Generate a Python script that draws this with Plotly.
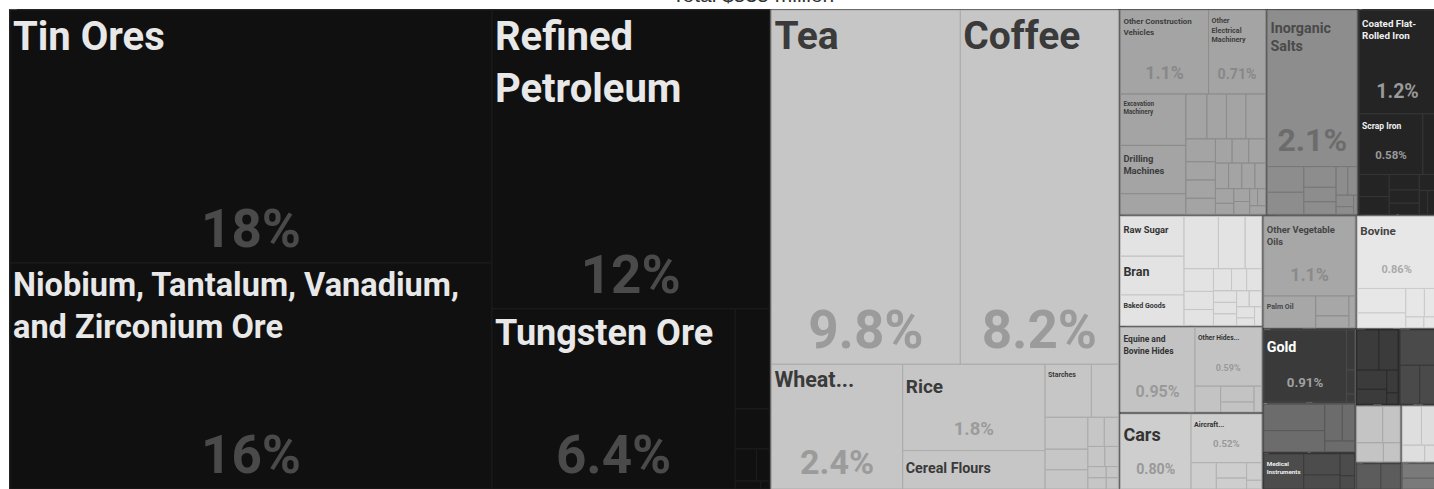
import plotly.graph_objects as go

# ---------------- data (share of total exports, %) ----------------
title_text = "Total $535 million"

mineral_names = ["Tin Ores", "Niobium, Tantalum, Vanadium, and Zirconium Ore", "Refined Petroleum",
                 "Tungsten Ore", "Copper Ore", "Petroleum Gas", "Crude Petroleum",
                 "Precious Metal Ore", "Cement", "Salt"]
mineral_values = [17.8, 15.9, 12.1, 6.4, 0.5, 0.2, 0.1, 0.06, 0.03, 0.01]

veg_names = ["Tea", "Coffee", "Wheat and Meslin", "Rice", "Cereal Flours", "Starches", "Maize", "Malt",
             "Soybeans", "Dried Legumes", "Cocoa Beans", "Spices", "Tropical Fruits", "Other Nuts",
             "Vanilla", "Onions", "Bananas", "Oats"]
veg_values = [9.8, 8.2, 2.4, 1.8, 0.8, 0.36, 0.21, 0.2, 0.13, 0.12, 0.07, 0.06, 0.05, 0.04,
              0.03, 0.03, 0.02, 0.02]

machine_names = ["Other Construction Vehicles", "Other Electrical Machinery", "Excavation Machinery",
                 "Drilling Machines", "Centrifuges", "Electric Generating Sets", "Air Pumps", "Valves",
                 "Computers", "Broadcasting Equipment", "Electric Motors", "Liquid Pumps", "Engine Parts",
                 "Telephones", "Transformers", "Sewing Machines", "Insulated Wire", "Lifting Machinery",
                 "Printers", "Refrigerators", "Ball Bearings", "Compressors", "Taps", "Generators",
                 "Fans", "Batteries", "Light Fixtures"]
machine_values = [1.1, 0.71, 0.5, 0.47, 0.2, 0.14, 0.13, 0.13, 0.13, 0.1, 0.08, 0.08, 0.07,
                  0.06, 0.06, 0.06, 0.05, 0.05, 0.05, 0.04, 0.04, 0.03, 0.03, 0.03, 0.02, 0.02, 0.02]

chem_names = ["Inorganic Salts", "Packaged Medicaments", "Insecticides", "Soap", "Paints", "Fertilizers",
              "Cleaning Products", "Beauty Products", "Glues", "Perfumes", "Explosives"]
chem_values = [2.1, 0.14, 0.12, 0.1, 0.07, 0.06, 0.05, 0.04, 0.03, 0.02, 0.01]

metal_names = ["Coated Flat-Rolled Iron", "Scrap Iron", "Iron Structures", "Aluminium Bars", "Raw Tin",
               "Iron Bars", "Nails", "Wire", "Tools", "Metal Cans", "Locks"]
metal_values = [1.2, 0.58, 0.12, 0.1, 0.08, 0.07, 0.06, 0.05, 0.04, 0.03, 0.03]

food_names = ["Raw Sugar", "Bran", "Baked Goods", "Beer", "Animal Food", "Hard Liquor", "Soups and Broths",
              "Pasta", "Cocoa Powder", "Fruit Juice", "Water", "Tobacco", "Wine", "Confectionery",
              "Sauces", "Chocolate", "Processed Fish", "Vinegar", "Flavored Water", "Cigars"]
food_values = [0.38, 0.37, 0.29, 0.27, 0.21, 0.13, 0.1, 0.08, 0.07, 0.06, 0.05, 0.05, 0.04, 0.04,
               0.04, 0.03, 0.03, 0.03, 0.02, 0.02]

hide_names = ["Equine and Bovine Hides", "Other Hides and Skins", "Leather", "Sheep Hides", "Handbags", "Furskins"]
hide_values = [0.95, 0.59, 0.1, 0.08, 0.05, 0.03]

transport_names = ["Cars", "Aircraft Parts", "Delivery Trucks", "Vehicle Parts", "Motorcycles",
                   "Tractors", "Bicycles"]
transport_values = [0.8, 0.52, 0.1, 0.07, 0.05, 0.04, 0.02]

oil_names = ["Other Vegetable Oils", "Palm Oil", "Soybean Oil", "Animal Fats", "Margarine"]
oil_values = [1.1, 0.25, 0.1, 0.06, 0.03]

animal_names = ["Bovine", "Poultry Meat", "Eggs", "Milk", "Fish Fillets", "Honey", "Bones"]
animal_values = [0.86, 0.18, 0.11, 0.08, 0.05, 0.03, 0.02]

precious_names = ["Gold", "Silver", "Jewellery", "Platinum"]
precious_values = [0.91, 0.05, 0.03, 0.01]

textile_names = ["Used Clothing", "Raw Cotton", "Synthetic Fabrics", "Knit Sweaters", "Jute Yarn"]
textile_values = [0.25, 0.2, 0.1, 0.07, 0.05]

instrument_names = ["Medical Instruments", "Optical Fibers", "Measuring Instruments", "X-Ray Equipment",
                    "Orthopedic Appliances"]
instrument_values = [0.22, 0.12, 0.08, 0.05, 0.03]

plastic_names = ["Plastic Lids", "Rubber Tires", "Plastic Pipes", "Ethylene Polymers", "Rubber Belts",
                 "Plastic Sheets"]
plastic_values = [0.14, 0.12, 0.09, 0.07, 0.04, 0.02]

footwear_names = ["Leather Footwear", "Rubber Footwear", "Hats"]
footwear_values = [0.2, 0.12, 0.1]

stone_names = ["Glass Bottles", "Ceramic Tiles", "Cement Articles", "Glass Fibers"]
stone_values = [0.15, 0.1, 0.08, 0.05]

paper_names = ["Paper Containers", "Toilet Paper", "Books", "Labels"]
paper_values = [0.12, 0.09, 0.06, 0.03]

wood_names = ["Sawn Wood", "Wood Charcoal"]
wood_values = [0.1, 0.08]

misc_names = ["Furniture", "Toys"]
misc_values = [0.08, 0.06]

groups = [
    ("Mineral Products", mineral_names, mineral_values),
    ("Vegetable Products", veg_names, veg_values),
    ("Machines", machine_names, machine_values),
    ("Chemical Products", chem_names, chem_values),
    ("Metals", metal_names, metal_values),
    ("Foodstuffs", food_names, food_values),
    ("Animal Hides", hide_names, hide_values),
    ("Transportation", transport_names, transport_values),
    ("Animal and Vegetable Bi-Products", oil_names, oil_values),
    ("Animal Products", animal_names, animal_values),
    ("Precious Metals", precious_names, precious_values),
    ("Textiles", textile_names, textile_values),
    ("Instruments", instrument_names, instrument_values),
    ("Plastics and Rubbers", plastic_names, plastic_values),
    ("Footwear and Headwear", footwear_names, footwear_values),
    ("Stone And Glass", stone_names, stone_values),
    ("Paper Goods", paper_names, paper_values),
    ("Wood Products", wood_names, wood_values),
    ("Miscellaneous", misc_names, misc_values),
]

# ---------------- styles ----------------
GROUP_STYLE = {  # fill, leaf border, label colour, percent colour
    "Mineral Products": ("#101010", "#1d1d1d", "#e8e8e8", "#4a4a4a"),
    "Vegetable Products": ("#c6c6c6", "#acacac", "#3a3a3a", "#9b9b9b"),
    "Machines": ("#a4a4a4", "#8c8c8c", "#3d3d3d", "#888888"),
    "Chemical Products": ("#8d8d8d", "#787878", "#4a4a4a", "#6c6c6c"),
    "Metals": ("#242424", "#363636", "#f0f0f0", "#9a9a9a"),
    "Foodstuffs": ("#e3e3e3", "#c6c6c6", "#333333", "#aaaaaa"),
    "Animal Hides": ("#c3c3c3", "#a8a8a8", "#333333", "#999999"),
    "Transportation": ("#cecece", "#b2b2b2", "#333333", "#999999"),
    "Animal and Vegetable Bi-Products": ("#a7a7a7", "#8e8e8e", "#454545", "#8a8a8a"),
    "Animal Products": ("#e7e7e7", "#cbcbcb", "#444444", "#aaaaaa"),
    "Precious Metals": ("#3a3a3a", "#4b4b4b", "#ffffff", "#a0a0a0"),
    "Textiles": ("#6c6c6c", "#595959", "#eeeeee", "#aaaaaa"),
    "Instruments": ("#4c4c4c", "#3b3b3b", "#eeeeee", "#aaaaaa"),
    "Plastics and Rubbers": ("#3b3b3b", "#2b2b2b", "#eeeeee", "#aaaaaa"),
    "Footwear and Headwear": ("#4a4a4a", "#393939", "#eeeeee", "#aaaaaa"),
    "Stone And Glass": ("#c4c4c4", "#a9a9a9", "#333333", "#999999"),
    "Paper Goods": ("#dedede", "#c3c3c3", "#333333", "#999999"),
    "Wood Products": ("#5c5c5c", "#4a4a4a", "#eeeeee", "#aaaaaa"),
    "Miscellaneous": ("#7a7a7a", "#666666", "#eeeeee", "#aaaaaa"),
}
GROUP_BORDER = "#2a2a2a"

# display text, label font size, percent font size (0 = none)
LABEL_STYLE = {
    "Tin Ores": ("Tin Ores", 40, 53),
    "Niobium, Tantalum, Vanadium, and Zirconium Ore": ("Niobium, Tantalum, Vanadium,<br>and Zirconium Ore", 32.5, 53),
    "Refined Petroleum": ("Refined<br>Petroleum", 40, 53),
    "Tungsten Ore": ("Tungsten Ore", 36, 53),
    "Tea": ("Tea", 39, 53),
    "Coffee": ("Coffee", 39, 53),
    "Wheat and Meslin": ("Wheat...", 21.5, 34),
    "Rice": ("Rice", 19, 18.5),
    "Cereal Flours": ("Cereal Flours", 14.3, 0),
    "Starches": ("Starches", 7, 0),
    "Other Construction Vehicles": ("Other Construction<br>Vehicles", 8, 17.7),
    "Other Electrical Machinery": ("Other<br>Electrical<br>Machinery", 7.2, 14.2),
    "Excavation Machinery": ("Excavation<br>Machinery", 6.3, 0),
    "Drilling Machines": ("Drilling<br>Machines", 9.4, 0),
    "Inorganic Salts": ("Inorganic<br>Salts", 14.3, 32),
    "Coated Flat-Rolled Iron": ("Coated Flat-<br>Rolled Iron", 9.8, 19.5),
    "Scrap Iron": ("Scrap Iron", 8.5, 11.5),
    "Raw Sugar": ("Raw Sugar", 9.4, 0),
    "Bran": ("Bran", 12.5, 0),
    "Baked Goods": ("Baked Goods", 7.1, 0),
    "Equine and Bovine Hides": ("Equine and<br>Bovine Hides", 8.5, 16),
    "Other Hides and Skins": ("Other Hides...", 6.7, 9),
    "Cars": ("Cars", 18, 14.2),
    "Aircraft Parts": ("Aircraft...", 7.1, 9.7),
    "Other Vegetable Oils": ("Other Vegetable<br>Oils", 9.4, 17.7),
    "Palm Oil": ("Palm Oil", 7.1, 0),
    "Bovine": ("Bovine", 11.6, 11),
    "Gold": ("Gold", 14.3, 13.3),
    "Medical Instruments": ("Medical<br>Instruments", 7.6, 0),
}
FONT = "Roboto, Arial, sans-serif"
PCT_BASE = 8          # trailing blank line (in this size) lifts percents off the bottom edge
SMALL_LABEL = 20      # labels below this size get a thin leading line (extra top padding)


def fmt_pct(v):
    if v >= 10:
        return f"{v:.0f}%"
    if v >= 1:
        return f"{v:.1f}%"
    return f"{v:.2f}%"


ids, labels, parents, values = [], [], [], []
fills, borders, bwidths = [], [], []
t_main, s_main, c_main = [], [], []
t_pct, s_pct, c_pct = [], [], []

for gname, names, vals in groups:
    fill, line, lab_c, pct_c = GROUP_STYLE[gname]
    ids.append(gname); labels.append(gname); parents.append(""); values.append(0)
    fills.append(GROUP_BORDER); borders.append(GROUP_BORDER); bwidths.append(0)
    t_main.append(""); s_main.append(10); c_main.append(lab_c)
    t_pct.append(""); s_pct.append(PCT_BASE); c_pct.append(pct_c)
    for n, v in zip(names, vals):
        ids.append(gname + "/" + n); labels.append(n); parents.append(gname); values.append(v)
        fills.append(fill); borders.append(line); bwidths.append(1)
        st = LABEL_STYLE.get(n)
        if st:
            body = f"<b>{st[0]}</b>"
            if st[1] < SMALL_LABEL:
                body = "<span style='font-size:1px'>\u00a0</span><br>" + body
            t_main.append(body); s_main.append(st[1])
            if st[2]:
                t_pct.append(f"<span style='font-size:{st[2]}px'><b>{fmt_pct(v)}</b></span><br>\u00a0")
            else:
                t_pct.append("")
        else:
            t_main.append(""); s_main.append(10)
            t_pct.append("")
        s_pct.append(PCT_BASE)
        c_main.append(lab_c); c_pct.append(pct_c)

common = dict(
    ids=ids, labels=labels, parents=parents, values=values,
    branchvalues="remainder", sort=True,
    tiling=dict(packing="squarify", squarifyratio=1.75, pad=0),
    pathbar=dict(visible=False),
    textinfo="text",
    domain=dict(x=[0, 1], y=[0, 1]),
)

fig = go.Figure()
fig.add_trace(go.Treemap(
    **common,
    text=t_main,
    textposition="top left",
    textfont=dict(family=FONT, size=s_main, color=c_main),
    marker=dict(colors=fills, line=dict(color=borders, width=bwidths),
                pad=dict(t=1, l=1, r=1, b=1)),
    hovertemplate="%{label}<br>%{value}%<extra></extra>",
))
fig.add_trace(go.Treemap(
    **common,
    text=t_pct,
    textposition="bottom center",
    textfont=dict(family=FONT, size=s_pct, color=c_pct),
    marker=dict(colors=["rgba(0,0,0,0)"] * len(ids), line=dict(width=0),
                pad=dict(t=1, l=1, r=1, b=1)),
    hoverinfo="skip",
))

PLOT_W, PLOT_H = 1430, 483
fig.add_annotation(
    text=title_text, xref="paper", yref="paper", x=(753 - 8) / PLOT_W, y=1.0,
    xanchor="center", yanchor="bottom", showarrow=False,
    font=dict(family="Liberation Sans, Arial, sans-serif", size=21, color="#333333"),
)

fig.update_layout(
    width=PLOT_W + 8, height=PLOT_H + 8,
    margin=dict(l=8, r=0, t=8, b=0),
    paper_bgcolor="#ffffff",
    showlegend=False,
)

fig.write_html(
    "out.html",
    config={"displayModeBar": False},
    post_script="document.body.style.margin='0';document.body.style.overflow='hidden';",
)
